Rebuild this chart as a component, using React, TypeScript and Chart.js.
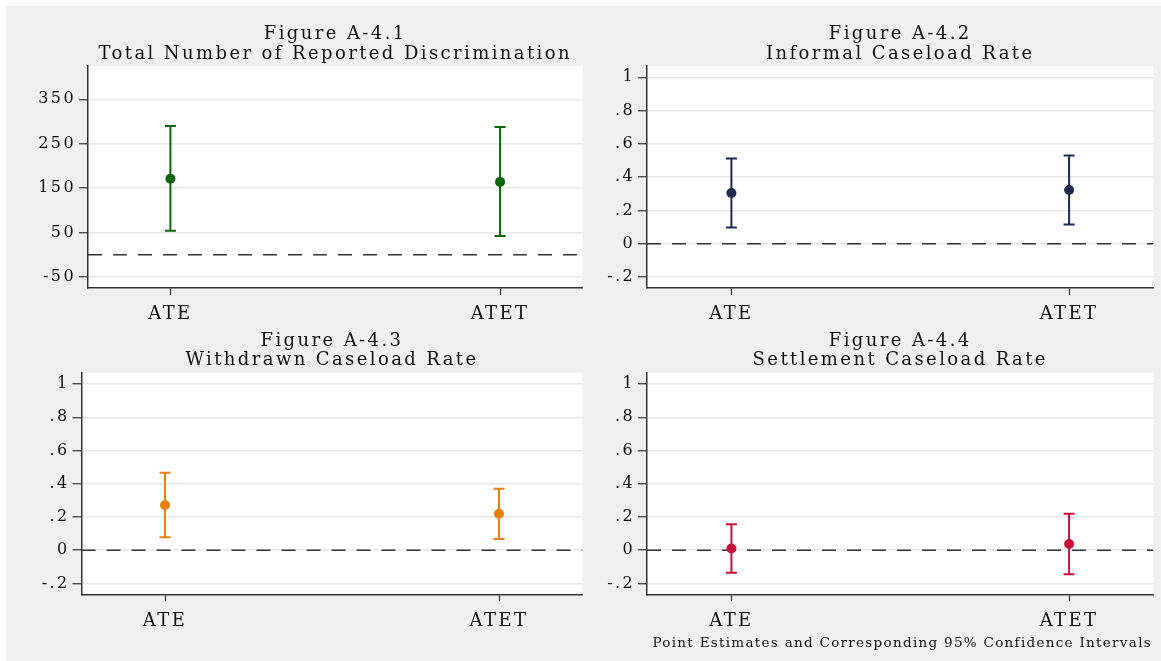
import React, { useEffect, useRef } from 'react';
import { Chart, registerables } from 'chart.js';

Chart.register(...registerables);

// ---------- data ----------
const categories = ['ATE', 'ATET'];
const categoryPositions = [1, 2];

const titles1 = ['Figure A-4.1', 'Total Number of Reported Discrimination'];
const titles2 = ['Figure A-4.2', 'Informal Caseload Rate'];
const titles3 = ['Figure A-4.3', 'Withdrawn Caseload Rate'];
const titles4 = ['Figure A-4.4', 'Settlement Caseload Rate'];

const estimates1 = [171, 164];
const lower1 = [54, 42];
const upper1 = [290, 287.5];

const estimates2 = [0.305, 0.323];
const lower2 = [0.099, 0.117];
const upper2 = [0.512, 0.53];

const estimates3 = [0.272, 0.22];
const lower3 = [0.078, 0.068];
const upper3 = [0.466, 0.37];

const estimates4 = [0.01, 0.038];
const lower4 = [-0.136, -0.144];
const upper4 = [0.156, 0.22];

const countTicks = [-50, 50, 150, 250, 350];
const countTickLabels = ['-50', '50', '150', '250', '350'];
const rateTicks = [-0.2, 0, 0.2, 0.4, 0.6, 0.8, 1];
const rateTickLabels = ['-.2', '0', '.2', '.4', '.6', '.8', '1'];

const footnote = 'Point Estimates and Corresponding 95% Confidence Intervals';

// ---------- style ----------
const FONT = "'DejaVu Serif', serif";
const LETTER_SPACING = '2.4px';
const TEXT = '#111111';
const AXIS = '#333333';
const GRID = '#e6e6e6';
const X_MIN = 0.75;
const X_MAX = 2.25;
const TITLE_SIZE = 18;

type PanelProps = {
  left: number;
  top: number;
  width: number;
  height: number;
  yAxisWidth: number;
  xAxisHeight: number;
  padRight: number;
  titlePadTop: number;
  titlePadBottom: number;
  title: string[];
  est: number[];
  lo: number[];
  hi: number[];
  color: string;
  yMin: number;
  yMax: number;
  yTicks: number[];
  yLabels: string[];
};

function Panel(p: PanelProps) {
  const ref = useRef<HTMLCanvasElement>(null);
  useEffect(() => {
    const canvas = ref.current;
    if (!canvas) return;
    const plotBg = {
      id: 'plotBg',
      beforeDraw(chart: any) {
        const { ctx, chartArea } = chart;
        ctx.save();
        ctx.fillStyle = '#ffffff';
        ctx.fillRect(chartArea.left, chartArea.top, chartArea.right - chartArea.left, chartArea.bottom - chartArea.top);
        ctx.restore();
        ctx.letterSpacing = LETTER_SPACING;
      },
    };
    const datasets: any[] = [
      {
        type: 'scatter',
        data: categoryPositions.map((x, i) => ({ x, y: p.est[i] })),
        pointRadius: 5,
        pointHoverRadius: 5,
        backgroundColor: p.color,
        borderWidth: 0,
        order: 0,
      },
      ...categoryPositions.map((x, i) => ({
        type: 'line',
        data: [
          { x, y: p.lo[i] },
          { x, y: p.hi[i] },
        ],
        borderColor: p.color,
        borderWidth: 2,
        pointStyle: 'line',
        pointRadius: 5.5,
        pointHoverRadius: 5.5,
        pointBorderColor: p.color,
        pointBackgroundColor: p.color,
        pointBorderWidth: 2,
        fill: false,
        order: 1,
      })),
      {
        type: 'line',
        data: [
          { x: X_MIN, y: 0 },
          { x: X_MAX, y: 0 },
        ],
        borderColor: AXIS,
        borderWidth: 1.5,
        borderDash: [14, 11],
        pointRadius: 0,
        fill: false,
        order: 2,
      },
    ];
    const chart = new Chart(canvas, {
      type: 'scatter',
      data: { datasets },
      plugins: [plotBg],
      options: {
        animation: false,
        responsive: false,
        devicePixelRatio: 1,
        events: [],
        layout: { padding: { left: 0, right: p.padRight, top: 0, bottom: 0 } },
        plugins: {
          legend: { display: false },
          tooltip: { enabled: false },
          title: {
            display: true,
            text: p.title,
            fullSize: false,
            color: TEXT,
            font: { family: FONT, size: TITLE_SIZE, weight: 'normal', lineHeight: 19.5 / TITLE_SIZE },
            padding: { top: p.titlePadTop, bottom: p.titlePadBottom },
          },
        },
        scales: {
          x: {
            type: 'linear',
            min: X_MIN,
            max: X_MAX,
            afterBuildTicks: (s: any) => {
              s.ticks = categoryPositions.map((v) => ({ value: v }));
            },
            afterFit: (s: any) => {
              s.height = p.xAxisHeight;
            },
            ticks: {
              callback: (_v: any, i: number) => categories[i],
              font: { family: FONT, size: 18, lineHeight: 1.2 },
              color: TEXT,
              padding: 9,
              autoSkip: false,
              maxRotation: 0,
            },
            grid: { drawOnChartArea: false, tickLength: 7, tickColor: AXIS, tickWidth: 1.2 },
            border: { color: AXIS, width: 1.5 },
          },
          y: {
            type: 'linear',
            min: p.yMin,
            max: p.yMax,
            afterBuildTicks: (s: any) => {
              s.ticks = p.yTicks.map((v) => ({ value: v }));
            },
            afterFit: (s: any) => {
              s.width = p.yAxisWidth;
            },
            ticks: {
              callback: (_v: any, i: number) => p.yLabels[i],
              font: { family: FONT, size: 16 },
              color: TEXT,
              padding: 3,
              autoSkip: false,
            },
            grid: { color: GRID, lineWidth: 1.5, tickLength: 9, tickColor: AXIS, tickWidth: 1.2 },
            border: { color: AXIS, width: 1.5 },
          },
        },
      } as any,
    });
    return () => chart.destroy();
  }, []);
  return (
    <canvas
      ref={ref}
      width={p.width}
      height={p.height}
      style={{ position: 'absolute', left: p.left, top: p.top, width: p.width, height: p.height }}
    />
  );
}

export default function App() {
  const rate = { yMin: -0.265, yMax: 1.068, yTicks: rateTicks, yLabels: rateTickLabels };
  return (
    <div
      style={{
        position: 'absolute',
        left: 6,
        top: 6,
        width: 1155,
        height: 655,
        background: '#efefef',
        overflow: 'hidden',
      }}
    >
      <Panel
        left={0} top={0} width={584} height={320}
        yAxisWidth={82} xAxisHeight={38} padRight={1}
        titlePadTop={18.75} titlePadBottom={2.25}
        title={titles1} est={estimates1} lo={lower1} hi={upper1}
        color="#0a640a" yMin={-75} yMax={425} yTicks={countTicks} yLabels={countTickLabels}
      />
      <Panel
        left={584} top={0} width={571} height={320}
        yAxisWidth={57} xAxisHeight={38} padRight={7.5}
        titlePadTop={18.75} titlePadBottom={2.25}
        title={titles2} est={estimates2} lo={lower2} hi={upper2}
        color="#1e2a50" {...rate}
      />
      <Panel
        left={0} top={320} width={584} height={335}
        yAxisWidth={75.5} xAxisHeight={66.7} padRight={1}
        titlePadTop={5.25} titlePadBottom={2.45}
        title={titles3} est={estimates3} lo={lower3} hi={upper3}
        color="#e5800f" {...rate}
      />
      <Panel
        left={584} top={320} width={571} height={335}
        yAxisWidth={57} xAxisHeight={66.7} padRight={7.5}
        titlePadTop={5.25} titlePadBottom={2.45}
        title={titles4} est={estimates4} lo={lower4} hi={upper4}
        color="#c80f3c" {...rate}
      />
      <div
        style={{
          position: 'absolute',
          right: 9,
          top: 628,
          fontFamily: FONT,
          fontSize: 13.5,
          lineHeight: '16px',
          letterSpacing: '1.3px',
          color: TEXT,
          whiteSpace: 'nowrap',
        }}
      >
        {footnote}
      </div>
    </div>
  );
}
